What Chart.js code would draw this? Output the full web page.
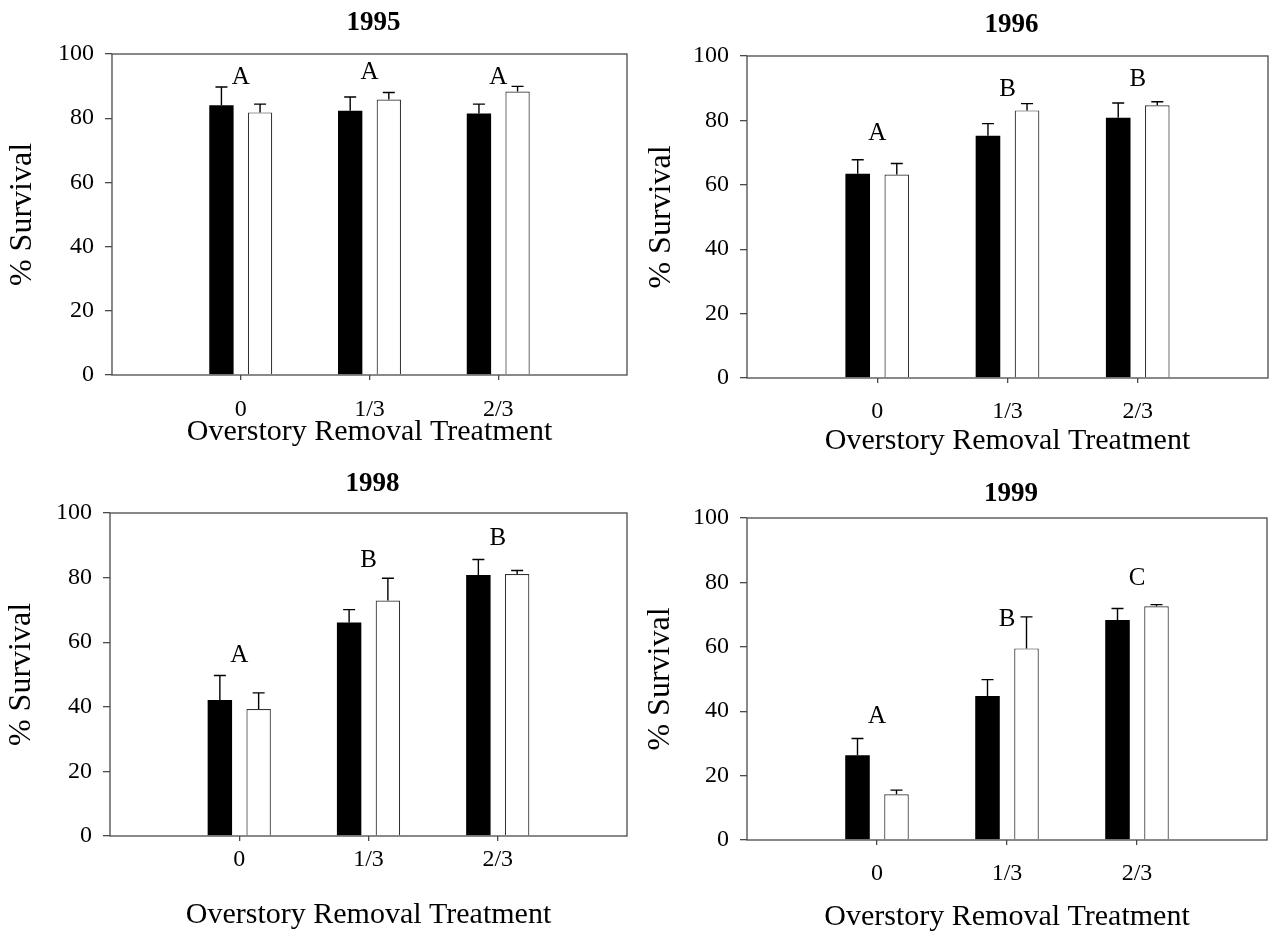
<!DOCTYPE html>
<html>
<head>
<meta charset="utf-8">
<script src="https://cdn.jsdelivr.net/npm/chart.js@4.4.1/dist/chart.umd.min.js"></script>
<style>
html,body{margin:0;padding:0;background:#fff;width:1271px;height:937px;overflow:hidden;}
canvas{position:absolute;display:block;}
</style>
</head>
<body>
<canvas id="p0" width="640" height="460" style="left:0px;top:0px;width:640px;height:460px;"></canvas>
<canvas id="p1" width="631" height="460" style="left:640px;top:0px;width:631px;height:460px;"></canvas>
<canvas id="p2" width="640" height="477" style="left:0px;top:460px;width:640px;height:477px;"></canvas>
<canvas id="p3" width="631" height="477" style="left:640px;top:460px;width:631px;height:477px;"></canvas>
<script>
// ---------------- data ----------------
const categories = ['0', '1/3', '2/3'];
const yTickValues = [0, 20, 40, 60, 80, 100];
const panelTitles = ['1995', '1996', '1998', '1999'];
const xAxisTitle = 'Overstory Removal Treatment';
const yAxisTitle = '% Survival';

// black bars and white bars: mean % survival
const black1995 = [84.0, 82.3, 81.5];
const white1995 = [81.8, 85.8, 88.3];
const black1996 = [63.4, 75.2, 80.8];
const white1996 = [63.2, 83.1, 84.7];
const black1998 = [42.1, 66.1, 80.8];
const white1998 = [39.3, 72.9, 81.1];
const black1999 = [26.3, 44.7, 68.3];
const white1999 = [14.2, 59.5, 72.6];

// upper error bar lengths (standard error)
const blackErr1995 = [5.7, 4.3, 2.9];
const whiteErr1995 = [2.6, 2.2, 1.6];
const blackErr1996 = [4.4, 3.8, 4.6];
const whiteErr1996 = [3.4, 2.1, 1.1];
const blackErr1998 = [7.6, 4.0, 4.8];
const whiteErr1998 = [5.0, 6.9, 1.1];
const blackErr1999 = [5.2, 5.1, 3.6];
const whiteErr1999 = [1.3, 9.8, 0.5];

// significance letters and the value at which each is centred
const letters1995 = ['A', 'A', 'A'];
const letterAt1995 = [92.6, 94.3, 92.6];
const letters1996 = ['A', 'B', 'B'];
const letterAt1996 = [75.8, 89.5, 92.8];
const letters1998 = ['A', 'B', 'B'];
const letterAt1998 = [55.8, 85.2, 92.1];
const letters1999 = ['A', 'B', 'C'];
const letterAt1999 = [38.3, 68.5, 81.2];

// ---------------- layout (pixels, per canvas) ----------------
const panelLayouts = [
  {area: {l: 112, t: 54, r: 627, b: 375}, titleY: 23, tickCenter: 410, xTitleCenter: 432, yTitleCenter: 23},
  {area: {l: 107, t: 56, r: 628, b: 378}, titleY: 25, tickCenter: 412, xTitleCenter: 441, yTitleCenter: 22},
  {area: {l: 110, t: 53, r: 627, b: 376}, titleY: 24, tickCenter: 400, xTitleCenter: 455, yTitleCenter: 22},
  {area: {l: 107, t: 58, r: 627, b: 380}, titleY: 34, tickCenter: 414, xTitleCenter: 457, yTitleCenter: 21}
];

const panels = [
  {black: black1995, white: white1995, bErr: blackErr1995, wErr: whiteErr1995, letters: letters1995, letterAt: letterAt1995},
  {black: black1996, white: white1996, bErr: blackErr1996, wErr: whiteErr1996, letters: letters1996, letterAt: letterAt1996},
  {black: black1998, white: white1998, bErr: blackErr1998, wErr: whiteErr1998, letters: letters1998, letterAt: letterAt1998},
  {black: black1999, white: white1999, bErr: blackErr1999, wErr: whiteErr1999, letters: letters1999, letterAt: letterAt1999}
];

const FONT = "'Liberation Serif', 'Times New Roman', Times, serif";
const AXIS_COLOR = '#4a4a4a';
const TICK_SIZE = 24;
const X_TITLE_SIZE = 30;
const Y_TITLE_SIZE = 32;
const LH = 1.2;

const pad = arr => [null, ...arr, null];

const framePlugin = {
  id: 'frame',
  afterDatasetsDraw(chart) {
    const {ctx, chartArea: a} = chart;
    ctx.save();
    ctx.strokeStyle = AXIS_COLOR;
    ctx.lineWidth = 1.3;
    ctx.strokeRect(a.left, a.top, a.right - a.left, a.bottom - a.top);
    ctx.restore();
  }
};

const errorBarPlugin = {
  id: 'errbars',
  afterDatasetsDraw(chart, args, opts) {
    const {ctx} = chart;
    const y = chart.scales.y;
    ctx.save();
    ctx.strokeStyle = '#000';
    ctx.lineWidth = 1.4;
    chart.data.datasets.forEach((ds, d) => {
      const meta = chart.getDatasetMeta(d);
      meta.data.forEach((bar, i) => {
        const v = ds.data[i];
        const e = opts.errors[d][i];
        if (v == null || e == null) return;
        const yTop = y.getPixelForValue(v + e);
        ctx.beginPath();
        ctx.moveTo(bar.x, bar.y);
        ctx.lineTo(bar.x, yTop);
        ctx.moveTo(bar.x - 6, yTop);
        ctx.lineTo(bar.x + 6, yTop);
        ctx.stroke();
      });
    });
    ctx.restore();
  }
};

const letterPlugin = {
  id: 'letters',
  afterDatasetsDraw(chart, args, opts) {
    const {ctx} = chart;
    const x = chart.scales.x, y = chart.scales.y;
    ctx.save();
    ctx.fillStyle = '#000';
    ctx.font = '25px ' + FONT;
    ctx.textAlign = 'center';
    ctx.textBaseline = 'middle';
    opts.letters.forEach((t, i) => {
      ctx.fillText(t, x.getPixelForValue(i + 1), y.getPixelForValue(opts.at[i]));
    });
    ctx.restore();
  }
};

const panelTitlePlugin = {
  id: 'panelTitle',
  afterDraw(chart, args, opts) {
    const {ctx, chartArea: a} = chart;
    ctx.save();
    ctx.fillStyle = '#000';
    ctx.font = 'bold 27px ' + FONT;
    ctx.textAlign = 'center';
    ctx.textBaseline = 'middle';
    ctx.fillText(opts.text, (a.left + a.right) / 2 + 4, opts.y);
    ctx.restore();
  }
};

panels.forEach((p, k) => {
  const L = panelLayouts[k];
  const canvas = document.getElementById('p' + k);
  const W = canvas.width, H = canvas.height;
  const xTickLen = 5, yTickLen = 7;
  const xTickPad = L.tickCenter - L.area.b - xTickLen - TICK_SIZE * LH / 2;
  const xTitlePadBottom = H - L.xTitleCenter - X_TITLE_SIZE * LH / 2;
  const yTitlePadTop = L.yTitleCenter - Y_TITLE_SIZE * LH / 2;
  const labels = ['', ...categories, ''];

  new Chart(canvas, {
    type: 'bar',
    data: {
      labels: labels,
      datasets: [
        {data: pad(p.black), backgroundColor: '#000', borderColor: '#000', borderWidth: 0,
         categoryPercentage: 0.6, barPercentage: 0.63},
        {data: pad(p.white), backgroundColor: '#fff', borderColor: '#333', borderWidth: 1.2,
         categoryPercentage: 0.6, barPercentage: 0.63}
      ]
    },
    options: {
      responsive: false,
      animation: false,
      devicePixelRatio: 1,
      layout: {padding: {left: 0, top: L.area.t, right: W - L.area.r, bottom: 0}},
      plugins: {
        legend: {display: false},
        tooltip: {enabled: false},
        title: {display: false},
        errbars: {errors: [pad(p.bErr), pad(p.wErr)]},
        letters: {letters: p.letters, at: p.letterAt},
        panelTitle: {text: panelTitles[k], y: L.titleY}
      },
      scales: {
        x: {
          type: 'category',
          offset: false,
          border: {display: false},
          grid: {
            offset: false,
            drawOnChartArea: false,
            drawTicks: true,
            tickLength: xTickLen,
            lineWidth: 1.3,
            color: ctx => (ctx.index === 0 || ctx.index === labels.length - 1) ? 'rgba(0,0,0,0)' : AXIS_COLOR
          },
          ticks: {
            autoSkip: false,
            maxRotation: 0,
            padding: xTickPad,
            color: '#000',
            font: {family: FONT, size: TICK_SIZE}
          },
          title: {
            display: true,
            text: xAxisTitle,
            color: '#000',
            font: {family: FONT, size: X_TITLE_SIZE},
            padding: {top: 0, bottom: xTitlePadBottom}
          },
          afterFit(scale) {
            scale.height = H - L.area.b;
            scale.paddingLeft = 0;
            scale.paddingRight = 0;
          }
        },
        y: {
          min: 0,
          max: 100,
          border: {display: false},
          grid: {
            drawOnChartArea: false,
            drawTicks: true,
            tickLength: yTickLen,
            lineWidth: 1.3,
            color: AXIS_COLOR
          },
          afterBuildTicks(scale) { scale.ticks = yTickValues.map(v => ({value: v})); },
          ticks: {
            padding: 11,
            color: '#000',
            font: {family: FONT, size: TICK_SIZE}
          },
          title: {
            display: true,
            text: yAxisTitle,
            color: '#000',
            font: {family: FONT, size: Y_TITLE_SIZE},
            padding: {top: yTitlePadTop, bottom: 0}
          },
          afterFit(scale) {
            scale.width = L.area.l;
            scale.paddingTop = 0;
            scale.paddingBottom = 0;
          }
        }
      }
    },
    plugins: [framePlugin, errorBarPlugin, letterPlugin, panelTitlePlugin]
  });
});
</script>
</body>
</html>
